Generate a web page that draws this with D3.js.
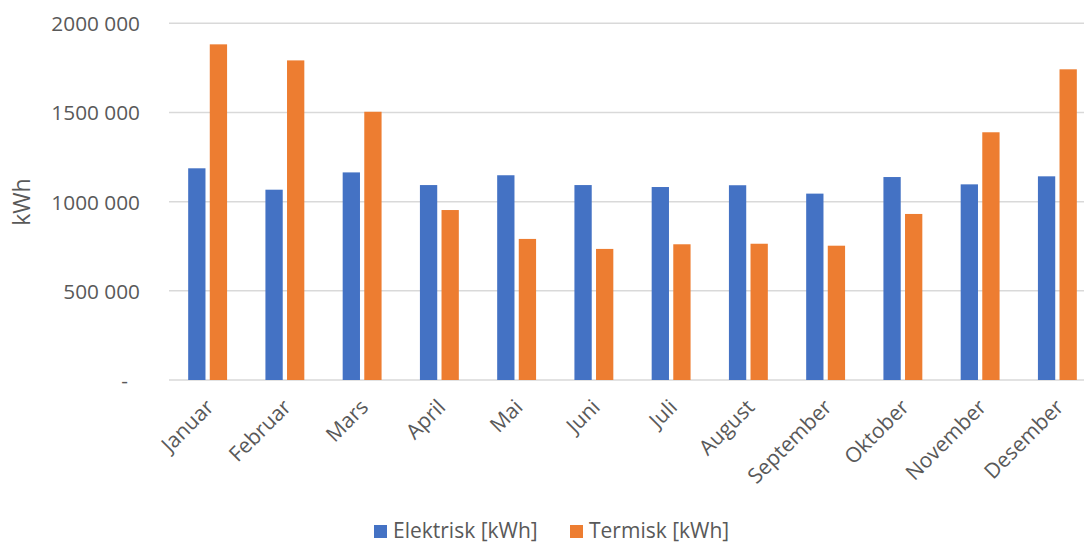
<!DOCTYPE html>
<html>
<head>
<meta charset="utf-8">
<script src="https://cdn.jsdelivr.net/npm/d3@7"></script>
<style>
  html, body { margin: 0; padding: 0; background: #fff; }
  svg { display: block; }
  text { font-family: "Open Sans", "Liberation Sans", sans-serif; fill: #595959; }
</style>
</head>
<body>
<svg id="chart" width="1084" height="542"></svg>
<script>
// Monthly energy use, kWh
const months = ["Januar", "Februar", "Mars", "April", "Mai", "Juni", "Juli",
                "August", "September", "Oktober", "November", "Desember"];
const elektrisk = [1187000, 1067000, 1164000, 1093000, 1148000, 1093000,
                   1082000, 1092000, 1045000, 1138000, 1097000, 1142000];
const termisk = [1882000, 1792000, 1504000, 953000, 791000, 735000,
                 761000, 764000, 753000, 931000, 1389000, 1742000];
const seriesNames = ["Elektrisk [kWh]", "Termisk [kWh]"];
const seriesColors = ["#4472C4", "#ED7D31"];
const yTicks = [0, 500000, 1000000, 1500000, 2000000];

const svg = d3.select("#chart");
const plotLeft = 169, plotRight = 1096, plotTop = 23.3, plotBottom = 380;

const x = d3.scaleBand().domain(months).range([plotLeft, plotRight]).paddingInner(0).paddingOuter(0);
const y = d3.scaleLinear().domain([0, 2000000]).range([plotBottom, plotTop]);

// "2000 000"-style grouping, with "-" for zero
const fmt = v => v === 0 ? "-" : d3.format(",")(v).replace(/,/g, " ").replace(/^(\d) (\d{3}) /, "$1$2 ");

// Horizontal gridlines
svg.append("g")
  .selectAll("line")
  .data(yTicks)
  .join("line")
  .attr("x1", plotLeft).attr("x2", plotRight)
  .attr("y1", d => y(d)).attr("y2", d => y(d))
  .attr("stroke", "#D9D9D9")
  .attr("stroke-width", 1.5);

// Y axis labels
const yAxis = d3.axisLeft(y).tickValues(yTicks).tickSize(0).tickPadding(0).tickFormat(fmt);
const yg = svg.append("g").attr("transform", `translate(140,0)`).call(yAxis);
yg.select(".domain").remove();
yg.selectAll("text")
  .attr("font-size", 20.8)
  .attr("fill", "#595959")
  .attr("font-family", "'Open Sans', sans-serif")
  .attr("dx", d => d === 0 ? -12 : 0)
  .attr("dy", "0.36em");

// Y axis title
svg.append("text")
  .attr("transform", "translate(30,202) rotate(-90)")
  .attr("text-anchor", "middle")
  .attr("font-size", 23)
  .text("kWh");

// Bars
const barW = 17.3, gap = 4.3;
const series = [elektrisk, termisk];
const groups = svg.append("g");
series.forEach((vals, si) => {
  groups.append("g")
    .selectAll("rect")
    .data(months.map((m, i) => ({ m, v: vals[i] })))
    .join("rect")
    .attr("x", d => x(d.m) + x.bandwidth() / 2 + (si === 0 ? -gap / 2 - barW : gap / 2))
    .attr("width", barW)
    .attr("y", d => y(d.v))
    .attr("height", d => y(0) - y(d.v))
    .attr("fill", seriesColors[si]);
});

// X axis labels, rotated
const xAxis = d3.axisBottom(x).tickSize(0).tickPadding(0);
const xg = svg.append("g").attr("transform", `translate(0,${plotBottom})`).call(xAxis);
xg.select(".domain").remove();
xg.selectAll("text")
  .attr("font-size", 21)
  .attr("fill", "#595959")
  .attr("font-family", "'Open Sans', sans-serif")
  .attr("text-anchor", "end")
  .attr("transform", "translate(-3,18) rotate(-45)")
  .attr("dy", "0.7em");

// Legend
const legendX = [374, 570];
const legend = svg.append("g");
seriesNames.forEach((name, i) => {
  legend.append("rect")
    .attr("x", legendX[i]).attr("y", 525)
    .attr("width", 13).attr("height", 13)
    .attr("fill", seriesColors[i]);
  legend.append("text")
    .attr("x", legendX[i] + 19).attr("y", 537.5)
    .attr("font-size", 21)
    .text(name);
});
</script>
</body>
</html>
